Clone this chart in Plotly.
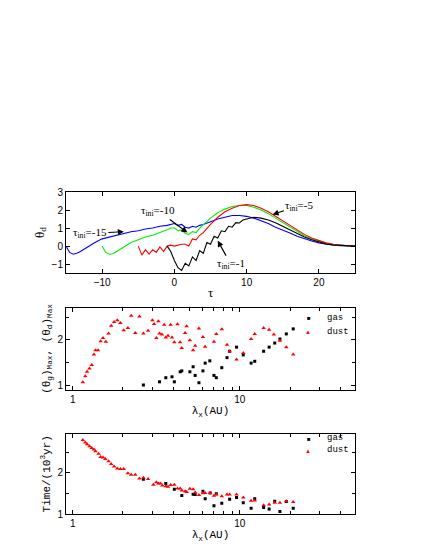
import plotly.graph_objects as go
from plotly.subplots import make_subplots

# top panel: theta_d vs tau for several tau_ini
tau_blue = [-15, -14.5, -14, -13.5, -13, -12, -11, -10, -9, -8, -7, -6, -5, -4, -3, -2, -1, -0.5, 0, 0.5, 1, 1.5, 2, 2.5, 3, 3.5, 4, 5, 6, 7, 8, 9, 10, 11, 12, 13, 14, 15, 16, 17, 18, 19, 20, 21, 22, 23, 24, 25]
th_blue = [0.0, -0.35, -0.45, -0.4, -0.3, -0.05, 0.2, 0.4, 0.5, 0.6, 0.7, 0.8, 0.85, 0.95, 1.0, 1.1, 1.15, 1.2, 1.25, 1.15, 1.2, 1.05, 1.0, 1.1, 1.05, 1.15, 1.2, 1.35, 1.5, 1.6, 1.7, 1.7, 1.65, 1.55, 1.4, 1.25, 1.05, 0.9, 0.72, 0.55, 0.4, 0.28, 0.18, 0.1, 0.05, 0.02, 0.0, 0.0]
tau_green = [-10, -9.5, -9, -8.5, -8, -7, -6, -5, -4, -3, -2, -1.5, -1, -0.5, 0, 0.5, 1, 1.5, 2, 2.5, 3, 3.5, 4, 5, 6, 7, 8, 9, 10, 11, 12, 13, 14, 15, 16, 17, 18, 19, 20, 21, 22, 23, 24, 25]
th_green = [0.0, -0.35, -0.45, -0.42, -0.3, -0.05, 0.2, 0.35, 0.5, 0.6, 0.75, 0.8, 0.9, 1.0, 1.0, 0.85, 0.9, 0.7, 0.65, 0.8, 0.75, 1.0, 1.2, 1.55, 1.85, 2.05, 2.2, 2.25, 2.25, 2.15, 2.0, 1.8, 1.55, 1.3, 1.05, 0.8, 0.58, 0.4, 0.26, 0.15, 0.08, 0.04, 0.02, 0.0]
tau_red = [-5, -4.5, -4, -3.5, -3, -2.5, -2, -1.5, -1, -0.5, 0, 0.5, 1, 1.5, 2, 2.5, 3, 3.5, 4, 5, 6, 7, 8, 9, 10, 11, 12, 13, 14, 15, 16, 17, 18, 19, 20, 21, 22, 23, 24, 25]
th_red = [0.0, -0.5, -0.2, -0.45, -0.2, -0.35, -0.05, -0.3, 0.0, 0.05, 0.0, 0.05, 0.1, 0.1, 0.0, 0.4, 0.35, 0.6, 0.75, 1.2, 1.6, 1.9, 2.1, 2.25, 2.3, 2.25, 2.1, 1.9, 1.65, 1.4, 1.12, 0.88, 0.65, 0.45, 0.3, 0.18, 0.1, 0.05, 0.02, 0.0]
tau_black = [-1, -0.5, 0, 0.5, 1, 1.5, 2, 2.5, 3, 3.5, 4, 4.5, 5, 5.5, 6, 6.5, 7, 7.5, 8, 8.5, 9, 9.5, 10, 11, 12, 13, 14, 15, 16, 17, 18, 19, 20, 21, 22, 23, 24, 25]
th_black = [0.0, -0.3, -0.8, -1.2, -1.35, -0.95, -1.1, -0.6, -0.8, -0.25, -0.4, 0.2, 0.1, 0.55, 0.45, 0.85, 0.8, 1.1, 1.05, 1.3, 1.28, 1.45, 1.5, 1.6, 1.55, 1.45, 1.3, 1.1, 0.9, 0.7, 0.5, 0.35, 0.22, 0.12, 0.06, 0.03, 0.01, 0.0]

# middle panel: maxima vs lambda_x
lam_gas_max = [2.65, 3.31, 3.61, 3.93, 4.06, 4.40, 4.50, 5.03, 5.26, 5.41, 5.70, 6.02, 6.21, 6.62, 7.01, 7.24, 7.81, 8.39, 8.70, 9.57, 10.5, 11.7, 12.3, 13.9, 15.0, 16.2, 17.4, 19.0, 20.9]
th_gas_max = [1.01, 1.08, 1.17, 1.19, 1.08, 1.30, 1.32, 1.30, 1.41, 1.22, 1.06, 1.32, 1.49, 1.54, 1.22, 1.17, 1.39, 1.61, 1.75, 1.84, 1.67, 1.49, 1.53, 1.75, 1.84, 1.93, 2.02, 2.13, 2.24]
lam_dust_max = [1.15, 1.19, 1.22, 1.26, 1.30, 1.34, 1.37, 1.42, 1.47, 1.52, 1.58, 1.64, 1.70, 1.77, 1.85, 1.93, 2.02, 2.14, 2.24, 2.37, 2.51, 2.65, 2.83, 3.00, 3.07, 3.17, 3.26, 3.31, 3.42, 3.53, 3.61, 3.72, 3.86, 3.93, 4.06, 4.24, 4.40, 4.50, 4.71, 4.81, 5.03, 5.26, 5.41, 5.70, 6.02, 6.21, 7.01, 7.24, 7.81, 8.39, 8.70, 9.57, 10.5, 11.7, 12.3, 13.9, 15.0, 16.0, 17.4, 19.0, 20.9]
th_dust_max = [1.07, 1.20, 1.30, 1.37, 1.45, 1.68, 1.77, 1.77, 1.97, 2.04, 1.96, 2.14, 2.31, 2.39, 2.43, 2.37, 2.21, 2.26, 2.53, 2.15, 2.51, 2.14, 2.20, 2.43, 2.35, 2.04, 2.41, 2.14, 2.12, 2.33, 2.05, 2.09, 2.33, 2.05, 1.95, 2.34, 1.95, 1.82, 2.15, 2.30, 1.99, 1.77, 1.87, 2.25, 2.06, 1.85, 1.96, 2.13, 2.23, 1.89, 1.75, 1.57, 1.71, 2.02, 2.13, 2.26, 2.22, 2.12, 1.98, 1.84, 1.68]

# bottom panel: time vs lambda_x
lam_gas_t = [2.65, 3.61, 4.06, 4.50, 5.26, 5.41, 6.02, 6.21, 6.65, 7.01, 7.24, 7.81, 8.70, 9.57, 10.5, 11.7, 12.3, 13.9, 15.0, 16.2, 17.4, 19.0, 20.9]
t_gas = [1.84, 1.74, 1.60, 1.45, 1.48, 1.47, 1.55, 1.37, 1.51, 1.20, 1.49, 1.26, 1.36, 1.40, 1.27, 1.14, 1.37, 1.16, 1.12, 1.31, 1.06, 1.30, 1.14]
lam_dust_t = [1.15, 1.19, 1.22, 1.26, 1.30, 1.34, 1.37, 1.43, 1.47, 1.52, 1.57, 1.64, 1.70, 1.77, 1.85, 1.93, 2.02, 2.14, 2.24, 2.37, 2.51, 2.65, 2.83, 3.04, 3.17, 3.26, 3.35, 3.44, 3.61, 3.72, 3.86, 4.06, 4.24, 4.40, 4.50, 4.71, 4.81, 5.03, 5.26, 5.41, 5.70, 6.02, 6.21, 6.65, 7.01, 7.24, 7.81, 8.39, 8.70, 9.57, 10.5, 11.7, 12.3, 13.9, 15.0, 16.2, 17.4, 19.0, 20.9]
t_dust = [2.79, 2.73, 2.69, 2.64, 2.60, 2.56, 2.52, 2.46, 2.38, 2.37, 2.33, 2.28, 2.21, 2.15, 2.10, 2.09, 2.09, 1.99, 1.95, 1.95, 1.86, 1.88, 1.85, 1.71, 1.77, 1.74, 1.74, 1.69, 1.67, 1.66, 1.70, 1.71, 1.62, 1.62, 1.57, 1.55, 1.53, 1.61, 1.60, 1.52, 1.46, 1.50, 1.51, 1.51, 1.44, 1.47, 1.43, 1.47, 1.47, 1.47, 1.40, 1.32, 1.33, 1.21, 1.23, 1.27, 1.27, 1.31, 1.29]

fig = make_subplots(rows=3, cols=1)

fig.update_layout(
    xaxis=dict(domain=[0, 1], anchor='y'),
    yaxis=dict(domain=[0.748, 1.0], anchor='x'),
    xaxis2=dict(domain=[0, 1], anchor='y2'),
    yaxis2=dict(domain=[0.385, 0.640], anchor='x2'),
    xaxis3=dict(domain=[0, 1], anchor='y3'),
    yaxis3=dict(domain=[0.0, 0.25], anchor='x3'),
)

line_w = 1.1
fig.add_trace(go.Scatter(x=tau_blue, y=th_blue, mode='lines', line=dict(color='blue', width=line_w)), row=1, col=1)
fig.add_trace(go.Scatter(x=tau_green, y=th_green, mode='lines', line=dict(color='#00ee00', width=line_w)), row=1, col=1)
fig.add_trace(go.Scatter(x=tau_red, y=th_red, mode='lines', line=dict(color='red', width=line_w)), row=1, col=1)
fig.add_trace(go.Scatter(x=tau_black, y=th_black, mode='lines', line=dict(color='black', width=line_w)), row=1, col=1)

gas_m = dict(symbol='square', size=3, color='black')
dust_m = dict(symbol='triangle-up', size=4, color='red')
fig.add_trace(go.Scatter(x=lam_gas_max, y=th_gas_max, mode='markers', marker=gas_m), row=2, col=1)
fig.add_trace(go.Scatter(x=lam_dust_max, y=th_dust_max, mode='markers', marker=dust_m), row=2, col=1)
fig.add_trace(go.Scatter(x=lam_gas_t, y=t_gas, mode='markers', marker=gas_m), row=3, col=1)
fig.add_trace(go.Scatter(x=lam_dust_t, y=t_dust, mode='markers', marker=dust_m), row=3, col=1)

ax_style = dict(showline=True, mirror='ticks', linecolor='black', linewidth=1, ticks='inside',
                ticklen=4, tickcolor='black', showgrid=False, zeroline=False,
                tickfont=dict(family='Liberation Sans', size=10, color='black'))
fig.update_xaxes(**ax_style)
fig.update_yaxes(**ax_style)

mono = dict(family='Liberation Mono', size=11, color='black')
serif = dict(family='Liberation Serif', size=13, color='black')

fig.update_xaxes(range=[-15, 25], tickvals=[-10, 0, 10, 20], title=dict(text='τ', font=serif, standoff=0), row=1, col=1)
fig.update_yaxes(range=[-1.5, 3], tickvals=[-1, 0, 1, 2, 3], title=dict(text='θ<sub>d</sub>', font=serif, standoff=4), row=1, col=1)

for r in (2, 3):
    fig.update_xaxes(type='log', range=[-0.04, 1.69], tickvals=[1, 10], ticktext=['1', '10'],
                     minor=dict(ticks='inside', ticklen=3, tickcolor='black',
                                tickvals=[2, 3, 4, 5, 6, 7, 8, 9, 20, 30, 40]),
                     title=dict(text='λ<sub>x</sub>(AU)', font=mono, standoff=2), row=r, col=1)
fig.update_yaxes(range=[0.9, 2.7], tickvals=[1, 2],
                 minor=dict(ticks='inside', ticklen=3, tickcolor='black', tickvals=[1.5, 2.5]),
                 title=dict(text='(θ<sub>g</sub>)<sub>Max</sub>, (θ<sub>d</sub>)<sub>Max</sub>', font=mono, standoff=4), row=2, col=1)
fig.update_yaxes(range=[1.0, 2.95], tickvals=[1, 2],
                 minor=dict(ticks='inside', ticklen=3, tickcolor='black', tickvals=[1.5, 2.5]),
                 title=dict(text='Time/(10<sup>3</sup>yr)', font=mono, standoff=4), row=3, col=1)

ann = []
def arrow(text, x, y, tx, ty):
    ann.append(dict(x=x, y=y, ax=tx, ay=ty, xref='x', yref='y', axref='x', ayref='y',
                    text=text, showarrow=True, arrowhead=2, arrowsize=1, arrowwidth=1.2,
                    arrowcolor='black', font=dict(family='Liberation Serif', size=11, color='black')))

arrow('τ<sub>ini</sub>=-15', -7, 0.8, -11.7, 0.7)
arrow('τ<sub>ini</sub>=-10', 1.8, 0.75, -2.2, 1.95)
arrow('τ<sub>ini</sub>=-5', 13.6, 1.75, 17.3, 2.25)
arrow('τ<sub>ini</sub>=-1', 6.0, 0.3, 7.8, -1.0)

# legends for the lower panels
for ygas, ydust in ((0.609, 0.565), (0.214, 0.177)):
    ann.append(dict(x=0.855, y=ygas, xref='paper', yref='paper', text='■', showarrow=False,
                    font=dict(size=6, color='black')))
    ann.append(dict(x=0.895, y=ygas, xref='paper', yref='paper', text='gas', showarrow=False,
                    xanchor='left', font=dict(family='Liberation Mono', size=9, color='black')))
    ann.append(dict(x=0.855, y=ydust, xref='paper', yref='paper', text='▲', showarrow=False,
                    font=dict(size=6, color='red')))
    ann.append(dict(x=0.895, y=ydust, xref='paper', yref='paper', text='dust', showarrow=False,
                    xanchor='left', font=dict(family='Liberation Mono', size=9, color='black')))

fig.update_layout(
    annotations=ann,
    showlegend=False,
    width=425, height=550,
    margin=dict(l=58, r=78, t=184, b=44),
    paper_bgcolor='white', plot_bgcolor='white',
)

fig.write_html("out.html")
